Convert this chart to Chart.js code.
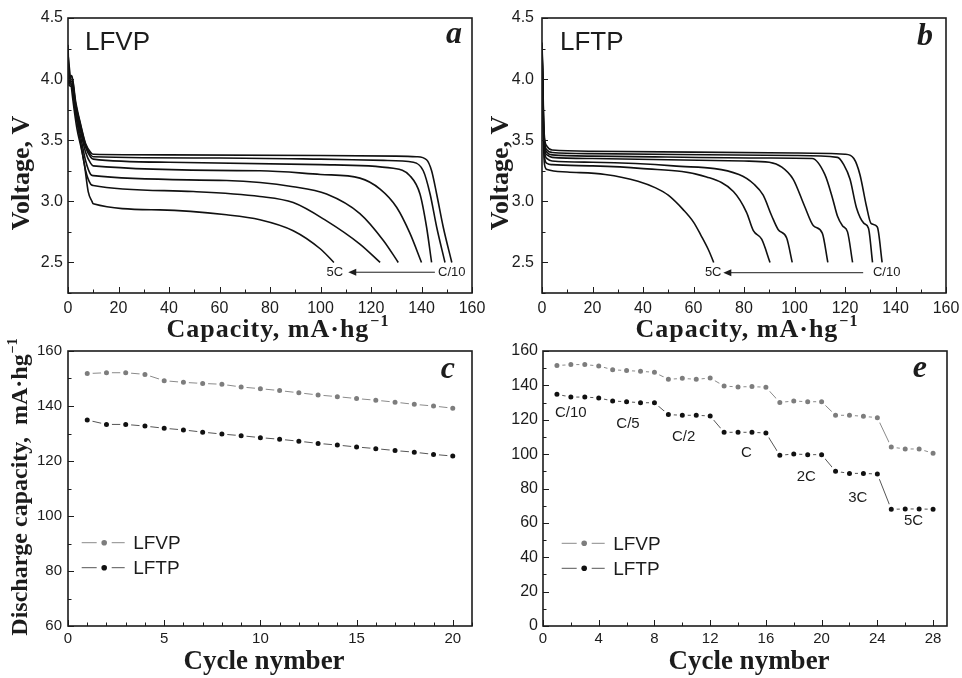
<!DOCTYPE html>
<html lang="en">
<head>
<meta charset="utf-8">
<title>LFVP / LFTP discharge</title>
<script src="https://cdn.jsdelivr.net/npm/chart.js@4.4.1/dist/chart.umd.min.js"></script>
<style>
  html, body { margin: 0; padding: 0; background: #fff; }
  body { width: 962px; height: 678px; position: relative; overflow: hidden; }
  .panel { position: absolute; }
</style>
</head>
<body>
<div class="panel" style="left:0;top:0;width:490px;height:345px"><canvas id="grafico-a"></canvas></div>
<div class="panel" style="left:481px;top:0;width:481px;height:345px"><canvas id="grafico-b"></canvas></div>
<div class="panel" style="left:0;top:325px;width:481px;height:353px"><canvas id="grafico-c"></canvas></div>
<div class="panel" style="left:481px;top:325px;width:481px;height:353px"><canvas id="grafico-e"></canvas></div>
<script>
// Panel a: LFVP discharge curves, [capacity, voltage], C/10 ... 5C
const lfvpC10 = [[0, 4.28], [0.4, 4.02], [1.5, 4.03], [3, 3.82], [5, 3.63], [7, 3.47], [9, 3.4], [10, 3.385], [40, 3.38], [100, 3.375], [130, 3.37], [138, 3.365], [142, 3.34], [144, 3.25], [146, 3.06], [148.6, 2.79], [152, 2.5]];
const lfvpC5 = [[0, 4.25], [0.4, 4.0], [1.5, 4.02], [3, 3.8], [5, 3.62], [7, 3.46], [9, 3.38], [10, 3.365], [60, 3.355], [100, 3.345], [125, 3.335], [136.8, 3.32], [140.7, 3.25], [143.4, 3.06], [146, 2.79], [149.3, 2.5]];
const lfvpC2 = [[0, 4.22], [0.4, 3.98], [1.5, 4.0], [3, 3.78], [5, 3.6], [7, 3.44], [9, 3.36], [10, 3.345], [40, 3.32], [100, 3.3], [128.8, 3.27], [135.4, 3.21], [139.4, 3.06], [142, 2.79], [144, 2.5]];
const lfvpC1 = [[0, 4.2], [0.4, 3.97], [1.5, 3.98], [3, 3.76], [5, 3.57], [7, 3.4], [9, 3.31], [10, 3.29], [76, 3.25], [100, 3.22], [115.6, 3.19], [123.6, 3.1], [130.2, 2.95], [135.4, 2.74], [140, 2.5]];
const lfvp2C = [[0, 4.18], [0.4, 3.96], [1.5, 3.96], [3, 3.74], [5, 3.53], [7, 3.33], [9, 3.22], [10, 3.21], [62.8, 3.17], [89.2, 3.12], [102.4, 3.06], [115.6, 2.9], [124.9, 2.68], [130.8, 2.5]];
const lfvp3C = [[0, 4.15], [0.4, 3.95], [1.5, 3.94], [3, 3.72], [5, 3.48], [7, 3.25], [9, 3.14], [10, 3.13], [49.6, 3.08], [76, 3.04], [89.2, 2.99], [102.4, 2.84], [115.6, 2.65], [123.6, 2.5]];
const lfvp5C = [[0, 4.2], [1, 4.0], [2, 3.82], [3.5, 3.6], [5.3, 3.43], [6.5, 3.3], [8, 3.08], [9.5, 3.0], [10, 2.98], [36.4, 2.93], [62.8, 2.89], [76, 2.85], [89.2, 2.76], [100, 2.61], [105.3, 2.5]];

// Panel b: LFTP discharge curves
const lftpC10 = [[0, 4.3], [0.3, 4.05], [0.6, 3.7], [1, 3.52], [2, 3.45], [4, 3.42], [20, 3.41], [100, 3.395], [120, 3.385], [123.5, 3.35], [125.9, 3.22], [128.5, 2.96], [130.3, 2.82], [132.8, 2.79], [134.7, 2.5]];
const lftpC5 = [[0, 4.28], [0.3, 4.0], [0.6, 3.66], [1, 3.49], [2, 3.42], [4, 3.4], [20, 3.39], [100, 3.375], [117, 3.36], [119.5, 3.3], [122, 3.18], [124.5, 2.95], [127.5, 2.82], [129.3, 2.78], [130.9, 2.5]];
const lftpC2 = [[0, 4.26], [0.3, 3.98], [0.6, 3.63], [1, 3.46], [2, 3.4], [4, 3.38], [20, 3.37], [90, 3.355], [107, 3.35], [112, 3.22], [115, 3.03], [117, 2.88], [119, 2.8], [121, 2.75], [123, 2.5]];
const lftpC1 = [[0, 4.24], [0.3, 3.95], [0.6, 3.6], [1, 3.43], [2, 3.38], [4, 3.36], [20, 3.35], [80, 3.33], [90, 3.32], [95, 3.28], [99.5, 3.18], [104, 2.96], [107.5, 2.8], [111, 2.74], [113.2, 2.5]];
const lftp2C = [[0, 4.22], [0.3, 3.92], [0.6, 3.56], [1, 3.4], [2, 3.35], [4, 3.33], [20, 3.32], [52, 3.29], [78, 3.22], [84, 3.14], [87.6, 3.05], [91, 2.88], [93.5, 2.77], [96.9, 2.7], [99.1, 2.5]];
const lftp3C = [[0, 4.2], [0.3, 3.88], [0.6, 3.52], [1, 3.36], [2, 3.31], [4, 3.3], [20, 3.29], [38.8, 3.27], [65.2, 3.2], [75.8, 3.08], [81, 2.91], [83.7, 2.76], [87, 2.69], [90.3, 2.5]];
const lftp5C = [[0, 4.28], [0.3, 3.85], [0.6, 3.48], [1, 3.3], [2, 3.26], [10, 3.24], [25, 3.22], [38, 3.165], [45, 3.11], [50, 3.05], [56, 2.93], [60, 2.83], [63, 2.72], [66, 2.6], [68, 2.5]];

const lfvpCurves = [lfvpC10, lfvpC5, lfvpC2, lfvpC1, lfvp2C, lfvp3C, lfvp5C];
const lftpCurves = [lftpC10, lftpC5, lftpC2, lftpC1, lftp2C, lftp3C, lftp5C];

// Panel c: cycling at one rate
const cycleC = [1, 2, 3, 4, 5, 6, 7, 8, 9, 10, 11, 12, 13, 14, 15, 16, 17, 18, 19, 20];
const lfvpCycleC = [151.8, 152.1, 152.1, 151.5, 149.2, 148.6, 148.2, 147.9, 146.9, 146.3, 145.6, 144.8, 144.0, 143.4, 142.7, 142.1, 141.4, 140.6, 140.0, 139.2];
const lftpCycleC = [134.9, 133.3, 133.3, 132.7, 131.9, 131.3, 130.5, 129.8, 129.2, 128.5, 127.9, 127.2, 126.4, 125.8, 125.1, 124.5, 123.8, 123.2, 122.4, 121.8];

// Panel e: rate capability, 4 cycles per rate
const cycleE = [1, 2, 3, 4, 5, 6, 7, 8, 9, 10, 11, 12, 13, 14, 15, 16, 17, 18, 19, 20, 21, 22, 23, 24, 25, 26, 27, 28];
const lfvpRateE = [151.5, 152.1, 152.1, 151.3, 149.1, 148.6, 148.2, 147.6, 143.5, 144.1, 143.5, 144.3, 139.6, 139.1, 139.3, 138.9, 130.1, 130.9, 130.5, 130.5, 122.6, 122.6, 122.0, 121.2, 104.1, 103.0, 103.0, 100.5];
const lftpRateE = [134.8, 133.2, 133.2, 132.7, 130.9, 130.5, 129.9, 129.9, 123.0, 122.6, 122.6, 122.2, 112.7, 112.7, 112.7, 112.3, 99.3, 100.1, 99.7, 99.7, 90.0, 88.8, 88.8, 88.4, 67.9, 68.1, 68.1, 67.9];
const rateNames = ["C/10", "C/5", "C/2", "C", "2C", "3C", "5C"];

// tick labels
const capTicks = [0, 20, 40, 60, 80, 100, 120, 140, 160];
const voltTicks = [2.5, 3, 3.5, 4, 4.5];
const cycleTicksC = [0, 5, 10, 15, 20];
const capacityTicksC = [60, 80, 100, 120, 140, 160];
const cycleTicksE = [0, 4, 8, 12, 16, 20, 24, 28];
const capacityTicksE = [0, 20, 40, 60, 80, 100, 120, 140, 160];

const SANS = "'Liberation Sans', Arial, sans-serif";
const SERIF = "'Liberation Serif', 'Times New Roman', serif";
const INK = "#1c1c1c";

// title with an optional superscript, (x, y) = middle of the baseline
function axisTitle(ctx, text, sup, x, y, size, vertical, spacing) {
  ctx.save();
  ctx.translate(x, y);
  if (vertical) ctx.rotate(-Math.PI / 2);
  ctx.letterSpacing = (spacing || 0) + "px";
  const big = `bold ${size}px ${SERIF}`;
  const small = `bold ${Math.round(size * 0.6)}px ${SERIF}`;
  ctx.font = big;
  const w1 = ctx.measureText(text).width;
  ctx.font = small;
  const w2 = sup ? ctx.measureText(sup).width + 1 : 0;
  const x0 = -(w1 + w2) / 2;
  ctx.fillStyle = INK;
  ctx.textAlign = "left";
  ctx.textBaseline = "alphabetic";
  ctx.font = big;
  ctx.fillText(text, x0, 0);
  if (sup) {
    ctx.font = small;
    ctx.fillText(sup, x0 + w1 + 1, -size * 0.42);
  }
  ctx.restore();
}

function put(ctx, text, x, y, font, align, base) {
  ctx.save();
  ctx.font = font;
  ctx.fillStyle = INK;
  ctx.textAlign = align || "left";
  ctx.textBaseline = base || "alphabetic";
  ctx.fillText(text, x, y);
  ctx.restore();
}

function letter(ctx, text, x, y) {
  put(ctx, text, x, y, `bold italic 32px ${SERIF}`, "right");
}

// box round the plot area, ticks pointing inward
function frame(chart, t) {
  const { ctx, chartArea: a, scales: { x, y } } = chart;
  const isMajor = (v, m) => Math.abs(v / m - Math.round(v / m)) < 1e-6;
  ctx.save();
  ctx.strokeStyle = INK;
  ctx.lineWidth = 1;
  ctx.beginPath();
  for (let i = 0; ; i++) {
    const v = Math.ceil(x.min / t.xStep - 1e-9) * t.xStep + i * t.xStep;
    if (v > x.max + 1e-9) break;
    const px = Math.round(x.getPixelForValue(v)) + 0.5;
    const len = isMajor(v, t.xMajor) ? 6 : 3.5;
    ctx.moveTo(px, a.bottom);
    ctx.lineTo(px, a.bottom - len);
  }
  for (let i = 0; ; i++) {
    const v = Math.ceil(y.min / t.yStep - 1e-9) * t.yStep + i * t.yStep;
    if (v > y.max + 1e-9) break;
    const py = Math.round(y.getPixelForValue(v)) + 0.5;
    const len = isMajor(v, t.yMajor) ? 6 : 3.5;
    ctx.moveTo(a.left, py);
    ctx.lineTo(a.left + len, py);
  }
  ctx.stroke();
  ctx.lineWidth = 1.6;
  ctx.strokeRect(a.left, a.top, a.right - a.left, a.bottom - a.top);
  ctx.restore();
}

// "5C <---- C/10" note under the curves
function rateArrow(chart, n) {
  const { ctx, scales: { x, y } } = chart;
  const py = y.getPixelForValue(n.at);
  const x1 = x.getPixelForValue(n.from);
  const x2 = x.getPixelForValue(n.to);
  ctx.save();
  ctx.strokeStyle = INK;
  ctx.fillStyle = INK;
  ctx.lineWidth = 1;
  ctx.beginPath();
  ctx.moveTo(x1, py);
  ctx.lineTo(x2 + 6, py);
  ctx.stroke();
  ctx.beginPath();
  ctx.moveTo(x2, py);
  ctx.lineTo(x2 + 8, py - 3.5);
  ctx.lineTo(x2 + 8, py + 3.5);
  ctx.closePath();
  ctx.fill();
  ctx.restore();
  put(ctx, "5C", x.getPixelForValue(n.leftAt), py, `13px ${SANS}`, "center", "middle");
  put(ctx, "C/10", x.getPixelForValue(n.rightAt), py, `13px ${SANS}`, "center", "middle");
}

function legend(chart, lx, ly) {
  const { ctx } = chart;
  chart.data.datasets.forEach((ds, i) => {
    const yy = ly + i * 25;
    ctx.save();
    ctx.strokeStyle = ds.borderColor;
    ctx.lineWidth = 1;
    ctx.beginPath();
    ctx.moveTo(lx, yy);
    ctx.lineTo(lx + 15, yy);
    ctx.moveTo(lx + 30, yy);
    ctx.lineTo(lx + 43, yy);
    ctx.stroke();
    ctx.fillStyle = ds.pointBackgroundColor;
    ctx.beginPath();
    ctx.arc(lx + 22.5, yy, 2.8, 0, Math.PI * 2);
    ctx.fill();
    ctx.restore();
    put(ctx, ds.label, lx + 51.5, yy + 1, `19px ${SANS}`, "left", "middle");
  });
}

function decor(id, ticks, extra) {
  return {
    id: "decor-" + id,
    afterDatasetsDraw(chart) {
      frame(chart, ticks);
      extra(chart);
    },
  };
}

function axes(o) {
  return {
    x: {
      type: "linear",
      min: o.xMin,
      max: o.xMax,
      grid: { display: false, drawTicks: false },
      border: { display: false },
      afterBuildTicks: (s) => { s.ticks = o.xTicks.map((v) => ({ value: v })); },
      ticks: { autoSkip: false, maxRotation: 0, padding: o.xPad, color: INK, font: { family: SANS, size: o.xFont } },
      afterFit: (s) => { s.height = 52; s.paddingLeft = 0; s.paddingRight = 0; },
    },
    y: {
      type: "linear",
      min: o.yMin,
      max: o.yMax,
      grid: { display: false, drawTicks: false },
      border: { display: false },
      afterBuildTicks: (s) => { s.ticks = o.yTicks.map((v) => ({ value: v })); },
      ticks: { padding: o.yPad, color: INK, font: { family: SANS, size: o.yFont }, callback: o.yFmt || ((v) => String(v)) },
      afterFit: (s) => { s.width = o.yWidth; s.paddingTop = 0; s.paddingBottom = 0; },
    },
  };
}

function baseOptions(padding, scales) {
  return {
    responsive: true,
    maintainAspectRatio: false,
    animation: false,
    devicePixelRatio: 1,
    layout: { padding },
    plugins: { legend: { display: false }, tooltip: { enabled: false } },
    scales,
  };
}

function curveSet(pairs) {
  return {
    data: pairs.map(([x, y]) => ({ x, y })),
    borderColor: "#111",
    borderWidth: 1.6,
    pointRadius: 0,
    cubicInterpolationMode: "monotone",
    fill: false,
  };
}

function seriesSet(label, xs, ys, dot, line) {
  return {
    label,
    data: xs.map((x, i) => ({ x, y: ys[i] })),
    borderColor: line,
    borderWidth: 1,
    pointRadius: 4,
    pointHoverRadius: 4,
    pointBorderWidth: 3,
    pointBorderColor: "#fff",
    pointBackgroundColor: dot,
    fill: false,
  };
}

const voltFmt = (v) => v.toFixed(1);

// a
new Chart(document.getElementById("grafico-a"), {
  type: "line",
  data: { datasets: lfvpCurves.map(curveSet) },
  options: baseOptions({ top: 18, right: 18, left: 0, bottom: 0 }, axes({
    xMin: 0, xMax: 160, xTicks: capTicks, xPad: 6, xFont: 16,
    yMin: 2.25, yMax: 4.5, yTicks: voltTicks, yPad: 5, yFont: 16, yWidth: 68, yFmt: voltFmt,
  })),
  plugins: [decor("a", { xStep: 10, xMajor: 20, yStep: 0.25, yMajor: 0.5 }, (chart) => {
    const { ctx, chartArea: a } = chart;
    put(ctx, "LFVP", a.left + 17, a.top + 32, `26px ${SANS}`);
    letter(ctx, "a", a.right - 10, a.top + 25);
    rateArrow(chart, { from: 145.3, to: 111, at: 2.42, leftAt: 105.7, rightAt: 152 });
    axisTitle(ctx, "Capacity, mA·hg", "−1", 278, 337, 26, false, 1);
    axisTitle(ctx, "Voltage, V", "", 29, 173, 26, true, 0);
  })],
});

// b
new Chart(document.getElementById("grafico-b"), {
  type: "line",
  data: { datasets: lftpCurves.map(curveSet) },
  options: baseOptions({ top: 18, right: 16, left: 0, bottom: 0 }, axes({
    xMin: 0, xMax: 160, xTicks: capTicks, xPad: 6, xFont: 16,
    yMin: 2.25, yMax: 4.5, yTicks: voltTicks, yPad: 8, yFont: 16, yWidth: 61, yFmt: voltFmt,
  })),
  plugins: [decor("b", { xStep: 10, xMajor: 20, yStep: 0.25, yMajor: 0.5 }, (chart) => {
    const { ctx, chartArea: a } = chart;
    put(ctx, "LFTP", a.left + 18, a.top + 32, `26px ${SANS}`);
    letter(ctx, "b", a.right - 13, a.top + 27);
    rateArrow(chart, { from: 127.2, to: 71.8, at: 2.416, leftAt: 67.8, rightAt: 136.5 });
    axisTitle(ctx, "Capacity, mA·hg", "−1", 266, 337, 26, false, 1);
    axisTitle(ctx, "Voltage, V", "", 27, 173, 26, true, 0);
  })],
});

// c
new Chart(document.getElementById("grafico-c"), {
  type: "line",
  data: {
    datasets: [
      seriesSet("LFVP", cycleC, lfvpCycleC, "#7d7d7d", "#8a8a8a"),
      seriesSet("LFTP", cycleC, lftpCycleC, "#111", "#555"),
    ],
  },
  options: baseOptions({ top: 26, right: 9, left: 0, bottom: 0 }, axes({
    xMin: 0, xMax: 21, xTicks: cycleTicksC, xPad: 4, xFont: 15,
    yMin: 60, yMax: 160, yTicks: capacityTicksC, yPad: 6, yFont: 15, yWidth: 68,
  })),
  plugins: [decor("c", { xStep: 1, xMajor: 5, yStep: 10, yMajor: 20 }, (chart) => {
    const { ctx, chartArea: a } = chart;
    letter(ctx, "c", a.right - 17, a.top + 27);
    legend(chart, a.left + 13.7, a.top + 191.7);
    axisTitle(ctx, "Cycle nymber", "", 264, 344, 27, false, 0);
    axisTitle(ctx, "Discharge capacity,  mA·hg", "−1", 27, 162, 24, true, 0);
  })],
});

// e
new Chart(document.getElementById("grafico-e"), {
  type: "line",
  data: {
    datasets: [
      seriesSet("LFVP", cycleE, lfvpRateE, "#7d7d7d", "#8a8a8a"),
      seriesSet("LFTP", cycleE, lftpRateE, "#111", "#555"),
    ],
  },
  options: baseOptions({ top: 26, right: 15, left: 0, bottom: 0 }, axes({
    xMin: 0, xMax: 29, xTicks: cycleTicksE, xPad: 4, xFont: 15,
    yMin: 0, yMax: 160, yTicks: capacityTicksE, yPad: 5, yFont: 16, yWidth: 62,
  })),
  plugins: [decor("e", { xStep: 2, xMajor: 4, yStep: 10, yMajor: 20 }, (chart) => {
    const { ctx, chartArea: a, scales: { x, y } } = chart;
    letter(ctx, "e", a.right - 20, a.top + 26);
    legend(chart, a.left + 18.7, a.top + 192.3);
    // rate names sit under each group of four cycles
    const spotX = [2.0, 6.1, 10.1, 14.6, 18.9, 22.6, 26.6];
    const spotY = [124, 117.5, 110, 101, 86.7, 74.5, 61];
    rateNames.forEach((name, i) => {
      put(ctx, name, x.getPixelForValue(spotX[i]), y.getPixelForValue(spotY[i]), `15px ${SANS}`, "center", "middle");
    });
    axisTitle(ctx, "Cycle nymber", "", 268, 344, 27, false, 0);
  })],
});
</script>
</body>
</html>
